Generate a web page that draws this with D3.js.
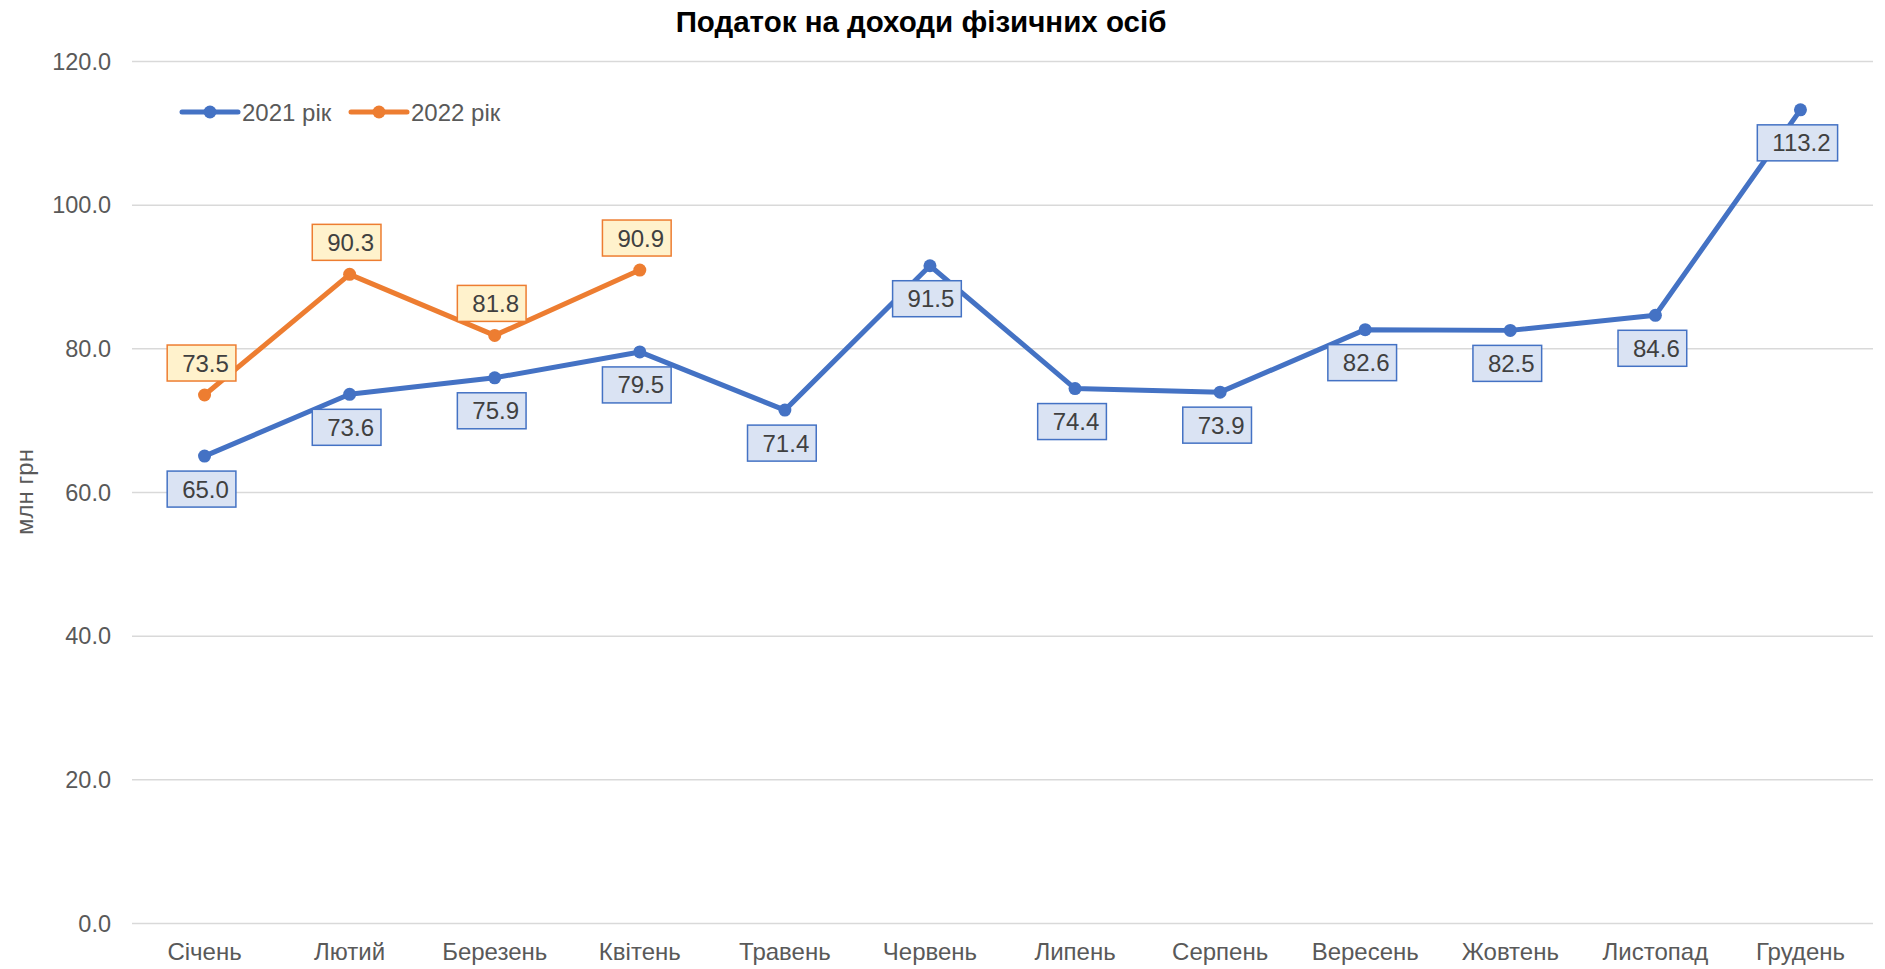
<!DOCTYPE html>
<html>
<head>
<meta charset="utf-8">
<script src="https://cdn.jsdelivr.net/npm/d3@7"></script>
<style>
  body { margin: 0; background: #fff; }
  svg text { font-family: "Liberation Sans", Arial, sans-serif; }
</style>
</head>
<body>
<div id="chart"></div>
<script>
const months = ['Січень', 'Лютий', 'Березень', 'Квітень', 'Травень', 'Червень', 'Липень', 'Серпень', 'Вересень', 'Жовтень', 'Листопад', 'Грудень'];
const values2021 = [65.0, 73.6, 75.9, 79.5, 71.4, 91.5, 74.4, 73.9, 82.6, 82.5, 84.6, 113.2];
const values2022 = [73.5, 90.3, 81.8, 90.9];
const yTicks = [0, 20, 40, 60, 80, 100, 120];
const seriesNames = ['2021 рік', '2022 рік'];

const w = 1885, h = 969;
const mLeft = 132, mRight = 1873, mTop = 61, mBottom = 923;

const svg = d3.select('#chart').append('svg').attr('width', w).attr('height', h);

const x = d3.scaleBand().domain(months).range([mLeft, mRight]);
const y = d3.scaleLinear().domain([0, 120]).range([mBottom, mTop]);

// gridlines + y labels
const yAxis = d3.axisLeft(y).tickValues(yTicks).tickSize(-(mRight - mLeft)).tickFormat(d3.format('.1f'));
const gy = svg.append('g').attr('transform', `translate(${mLeft},0)`).call(yAxis);
gy.select('.domain').remove();
gy.selectAll('line').attr('stroke', '#d9d9d9').attr('stroke-width', 1.5);
gy.selectAll('text').attr('x', -21).attr('dy', '0.35em')
  .attr('fill', '#595959').style('font-size', '23.5px');

// x labels
const xAxis = d3.axisBottom(x).tickSize(0);
const gx = svg.append('g').attr('transform', `translate(0,${mBottom})`).call(xAxis);
gx.select('.domain').remove();
gx.selectAll('text').attr('y', 37).attr('dy', 0)
  .attr('fill', '#595959').style('font-size', '24px');

// title
svg.append('text').attr('x', 921).attr('y', 32).attr('text-anchor', 'middle')
  .style('font-size', '29.5px').style('font-weight', 'bold').attr('fill', '#000')
  .text('Податок на доходи фізичних осіб');

// y title
svg.append('text').attr('transform', `translate(33,${(mTop + mBottom) / 2}) rotate(-90)`)
  .attr('text-anchor', 'middle').attr('fill', '#595959').style('font-size', '24px')
  .text('млн грн');

const series = [
  { name: seriesNames[0], data: values2021, color: '#4472C4', fill: '#DAE3F3', pos: 'below' },
  { name: seriesNames[1], data: values2022, color: '#ED7D31', fill: '#FFF2CC', pos: 'above' }
];

const cx = (d, i) => x(months[i]) + x.bandwidth() / 2;
const line = d3.line().x(cx).y(d => y(d));

series.forEach(s => {
  svg.append('path').datum(s.data).attr('d', line)
    .attr('fill', 'none').attr('stroke', s.color).attr('stroke-width', 5)
    .attr('stroke-linejoin', 'round').attr('stroke-linecap', 'round');
  svg.append('g').selectAll('circle').data(s.data).enter().append('circle')
    .attr('cx', cx).attr('cy', d => y(d)).attr('r', 6.5).attr('fill', s.color);
});

// data labels
series.forEach(s => {
  const g = svg.append('g');
  s.data.forEach((d, i) => {
    const px = cx(d, i), py = y(d);
    const lab = g.append('g');
    const rect = lab.append('rect');
    const t = lab.append('text').attr('text-anchor', 'middle').attr('fill', '#404040')
      .style('font-size', '24px').text(d.toFixed(1));
    const tw = t.node().getComputedTextLength();
    const bw = tw + 22, bh = 36;
    const by = s.pos === 'below' ? py + 15 : py - 14 - bh;
    rect.attr('x', px - bw / 2 - 3).attr('y', by).attr('width', bw).attr('height', bh)
      .attr('fill', s.fill).attr('stroke', s.color).attr('stroke-width', 1.5);
    t.attr('x', px + 1).attr('y', by + bh / 2 + 8.5);
  });
});

// legend
const legend = svg.append('g');
const legendX = [182, 351];
series.forEach((s, i) => {
  const lg = legend.append('g').attr('transform', `translate(${legendX[i]},112)`);
  lg.append('line').attr('x1', 0).attr('x2', 56).attr('y1', 0).attr('y2', 0)
    .attr('stroke', s.color).attr('stroke-width', 5).attr('stroke-linecap', 'round');
  lg.append('circle').attr('cx', 28).attr('cy', 0).attr('r', 6.5).attr('fill', s.color);
  lg.append('text').attr('x', 60).attr('y', 8.5).attr('fill', '#595959')
    .style('font-size', '24px').text(s.name);
});
</script>
</body>
</html>
